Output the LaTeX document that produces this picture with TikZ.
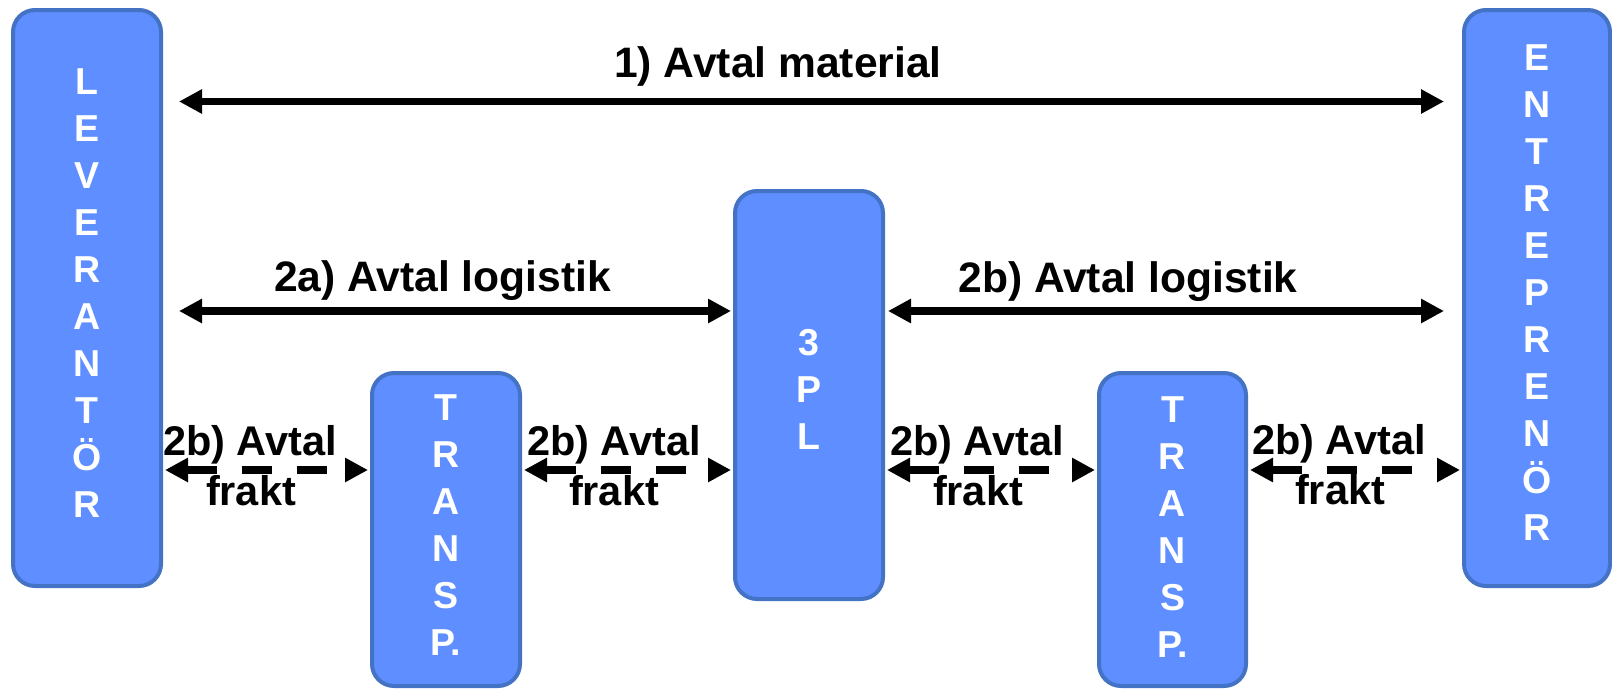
\documentclass[tikz,border=0pt]{standalone}
\usepackage{fontspec}
\setmainfont{Liberation Sans}
\usetikzlibrary{arrows.meta}
\definecolor{boxfill}{RGB}{94,142,255}
\definecolor{boxline}{RGB}{68,114,196}
\begin{document}
\begin{tikzpicture}[x=1pt,y=-1pt,
  blk/.style={draw=boxline, fill=boxfill, line width=4pt, rounded corners=22pt, inner sep=0pt},
  blktext/.style={text=white, font=\fontsize{37.5}{47}\selectfont\bfseries, align=center, inner sep=0pt},
  lbl/.style={font=\fontsize{41.5}{51}\selectfont\bfseries, inner sep=0pt, anchor=base},
  biglbl/.style={lbl, font=\fontsize{42.6}{51}\selectfont\bfseries},
  arr/.style={line width=7.5pt, {Triangle[length=23pt,width=23pt]}-{Triangle[length=23pt,width=23pt]}},
  darr/.style={arr, dash pattern=on 30pt off 25pt}]
\useasboundingbox (0,0) rectangle (1612,691);

% boxes
\node[blk, minimum width=148pt, minimum height=576pt] (lev) at (87,298) {};
\node[blk, minimum width=146pt, minimum height=576pt] (ent) at (1537,298) {};
\node[blk, minimum width=148pt, minimum height=408pt] (pl) at (809,395) {};
\node[blk, minimum width=148pt, minimum height=313pt] (tr1) at (446,529.5) {};
\node[blk, minimum width=147pt, minimum height=313pt] (tr2) at (1172.5,529.5) {};

% box texts
\node[blktext] (levt) at (87,293) {L\\E\\V\\E\\R\\A\\N\\T\\Ö\\R};
\node[blktext] (entt) at (1537,292.3) {E\\N\\T\\R\\E\\P\\R\\E\\N\\Ö\\R};
\node[blktext] (plt) at (809,389) {3\\P\\L};
\node[blktext] (tr1t) at (446,525.5) {T\\R\\A\\N\\S\\P.};
\node[blktext] (tr2t) at (1172.5,527) {T\\R\\A\\N\\S\\P.};

% rows
\coordinate (y1) at (0,101.5);
\coordinate (y2) at (0,311);
\coordinate (y3) at (0,470);

% solid arrows
\draw[arr, shorten <=16pt, shorten >=18pt] (lev.east |- y1) -- (ent.west |- y1);
\draw[arr, shorten <=16pt, shorten >=2pt] (lev.east |- y2) -- (pl.west |- y2);
\draw[arr, shorten <=3pt, shorten >=18pt] (pl.east |- y2) -- (ent.west |- y2);

% dashed arrows
\draw[darr, shorten <=2pt, shorten >=2pt] (lev.east |- y3) -- (tr1.west |- y3);
\draw[darr, shorten <=2pt, shorten >=2pt] (tr1.east |- y3) -- (pl.west |- y3);
\draw[darr, shorten <=2pt, shorten >=2pt] (pl.east |- y3) -- (tr2.west |- y3);
\draw[darr, shorten <=2pt, shorten >=2pt] (tr2.east |- y3) -- (ent.west |- y3);

% labels
\node[biglbl] (l1) at (778,77.5) {1) Avtal material};
\node[biglbl] (l2a) at (442.5,291.7) {2a) Avtal logistik};
\node[biglbl] (l2b) at (1128,292) {2b) Avtal logistik};

\node[lbl] (f1a) at (250,455) {2b) Avtal};
\node[lbl] (f1b) at (251,505) {frakt};
\node[lbl] (f2a) at (614,455) {2b) Avtal};
\node[lbl] (f2b) at (614,505) {frakt};
\node[lbl] (f3a) at (977,455) {2b) Avtal};
\node[lbl] (f3b) at (978,505) {frakt};
\node[lbl] (f4a) at (1339,454) {2b) Avtal};
\node[lbl] (f4b) at (1340,504) {frakt};
\end{tikzpicture}
\end{document}
